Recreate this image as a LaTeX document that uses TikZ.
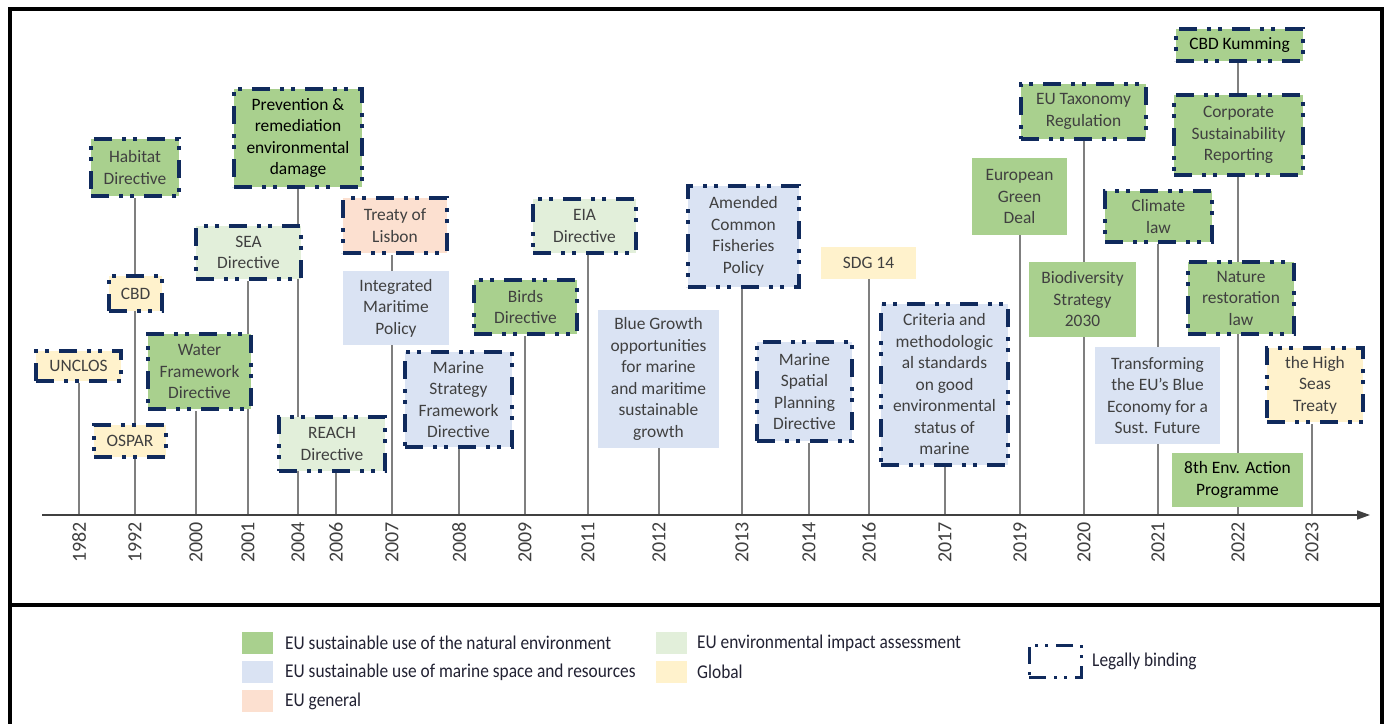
\documentclass[tikz,border=0pt]{standalone}
\usepackage{fontspec}
\setmainfont{Carlito}
\newfontfamily\legfont[FakeStretch=0.89]{Carlito}
\usetikzlibrary{arrows.meta}
\pgfdeclarelayer{background}
\pgfdeclarelayer{canvas}
\pgfsetlayers{canvas,background,main}
\definecolor{gfill}{HTML}{A9D08E}
\definecolor{lgfill}{HTML}{E2EFDA}
\definecolor{bfill}{HTML}{DAE3F3}
\definecolor{yfill}{HTML}{FFF2CC}
\definecolor{sfill}{HTML}{FCE0D0}
\definecolor{navy}{HTML}{102A5C}
\definecolor{txt}{HTML}{404040}
\definecolor{conncol}{HTML}{7F7F7F}
\definecolor{legtxt}{HTML}{222233}
\begin{document}
\begin{tikzpicture}[x=1pt,y=-1pt,
  box/.style={rectangle, inner sep=0pt, align=center, text=txt, font=\fontsize{17.4}{21.5}\selectfont},
  legal/.style={draw=navy, line width=4pt, line cap=butt, dash pattern=on 18pt off 10pt on 4pt off 7pt on 4pt off 10pt},
  gbox/.style={box, fill=gfill},
  lgbox/.style={box, fill=lgfill},
  bbox/.style={box, fill=bfill},
  ybox/.style={box, fill=yfill},
  sbox/.style={box, fill=sfill},
  dark/.style={text=black},
  conn/.style={draw=conncol, line width=1.3pt},
  year/.style={rotate=90, anchor=east, inner sep=0pt, text=txt, font=\fontsize{20}{20}\selectfont},
  swatch/.style={rectangle, inner sep=0pt, minimum width=31pt, minimum height=22pt},
  legtext/.style={anchor=west, inner sep=0pt, text=legtxt, font=\legfont\fontsize{19.5}{20}\selectfont}
]
\useasboundingbox (0,0) rectangle (1387,723);
\begin{pgfonlayer}{canvas}
\fill[white] (0,0) rectangle (1387,723);
\end{pgfonlayer}

% frame
\draw[line width=3.5pt] (10,9) rectangle (1382,745);
\draw[line width=4.5pt] (10,605) -- (1382,605);

% year coordinates on axis
\foreach \yr/\xx in {1982/79,1992/135,2000/196,2001/248,2004/298,2006/336,2007/392,2008/459,2009/525,2011/588,2012/659,2013/742,2014/809,2016/869,2017/945,2019/1020,2020/1084,2021/1158,2022/1238,2023/1312}{
  \coordinate (y\yr) at (\xx,515);
  \node[year] (t\yr) at (\xx,522) {\yr};
}

% boxes
\node[gbox, legal, minimum width=88pt, minimum height=57pt] (habitat) at (135,167.5) {Habitat\\Directive};
\node[gbox, legal, dark, minimum width=128pt, minimum height=98pt] (prev) at (298,138) {Prevention \&\\remediation\\environmental\\damage};
\node[lgbox, legal, minimum width=105pt, minimum height=53pt] (sea) at (248.5,252.5) {SEA\\Directive};
\node[ybox, legal, minimum width=53pt, minimum height=35pt] (cbd) at (135.5,293.5) {CBD};
\node[ybox, legal, minimum width=85pt, minimum height=30pt] (unclos) at (78.5,366) {UNCLOS};
\node[gbox, legal, minimum width=103pt, minimum height=75pt] (wfd) at (199.5,371.5) {Water\\Framework\\Directive};
\node[ybox, legal, minimum width=72pt, minimum height=32pt] (ospar) at (130,441) {OSPAR};
\node[lgbox, legal, minimum width=106pt, minimum height=54pt] (reach) at (332,444) {REACH\\Directive};
\node[sbox, legal, minimum width=104pt, minimum height=55pt] (lisbon) at (395,225.5) {Treaty of\\Lisbon};
\node[bbox, minimum width=106pt, minimum height=74pt] (imp) at (396,308) {Integrated\\Maritime\\Policy};
\node[gbox, legal, minimum width=103pt, minimum height=54pt] (birds) at (525.5,307) {Birds\\Directive};
\node[lgbox, legal, minimum width=103pt, minimum height=54pt] (eia) at (584.5,226) {EIA\\Directive};
\node[bbox, legal, minimum width=107pt, minimum height=95pt] (msfd) at (458.5,399.5) {Marine\\Strategy\\Framework\\Directive};
\node[bbox, minimum width=121pt, minimum height=138pt] (blue) at (658.5,379) {Blue Growth\\opportunities\\for marine\\and maritime\\sustainable\\growth};
\node[bbox, legal, minimum width=111pt, minimum height=101pt] (cfp) at (743.5,236.5) {Amended\\Common\\Fisheries\\Policy};
\node[ybox, minimum width=95pt, minimum height=32pt] (sdg) at (868.5,263) {SDG 14};
\node[bbox, legal, minimum width=95pt, minimum height=99pt] (msp) at (804.5,391.5) {Marine\\Spatial\\Planning\\Directive};
\node[bbox, legal, minimum width=127pt, minimum height=161pt] (crit) at (944.5,384.5) {Criteria and\\methodologic\\al standards\\on good\\environmental\\status of\\marine};
\node[gbox, minimum width=95pt, minimum height=77pt] (egd) at (1019.5,196.5) {European\\Green\\Deal};
\node[gbox, legal, minimum width=125pt, minimum height=55pt] (tax) at (1083.5,111.5) {EU Taxonomy\\Regulation};
\node[gbox, minimum width=107pt, minimum height=75pt] (bio) at (1082.5,299.5) {Biodiversity\\Strategy\\2030};
\node[gbox, legal, dark, minimum width=127pt, minimum height=32pt] (kum) at (1239.5,45) {CBD Kumming};
\node[gbox, legal, minimum width=129pt, minimum height=80pt] (csr) at (1238.5,135) {Corporate\\Sustainability\\Reporting};
\node[gbox, legal, minimum width=107pt, minimum height=51pt] (climate) at (1158.5,216.5) {Climate\\law};
\node[gbox, legal, minimum width=106pt, minimum height=72pt] (nature) at (1241,298) {Nature\\restoration\\law};
\node[bbox, minimum width=125pt, minimum height=97pt] (transf) at (1157.5,395.5) {Transforming\\the EU's Blue\\Economy for a\\Sust. Future};
\node[gbox, dark, minimum width=131pt, minimum height=54pt] (eighth) at (1237.5,480) {8th Env. Action\\Programme};
\node[ybox, legal, minimum width=96pt, minimum height=74pt] (seas) at (1315,385) {the High\\Seas\\Treaty};

% connectors behind boxes
\begin{pgfonlayer}{background}
\foreach \n/\c in {unclos/y1982, habitat/y1992, wfd/y2000, sea/y2001, prev/y2004, reach/y2006, lisbon/y2007, msfd/y2008, birds/y2009, eia/y2011, blue/y2012, cfp/y2013, msp/y2014, sdg/y2016, crit/y2017, egd/y2019, tax/y2020, climate/y2021, kum/y2022, seas/y2023}{
  \draw[conn] (\n.south -| \c) -- (\c);
}
\end{pgfonlayer}

% axis
\coordinate (ax0) at (42,515);
\coordinate (ax1) at (1370,515);
\draw[draw=txt, line width=1.5pt, -{Triangle[length=13pt,width=9pt]}] (ax0) -- (ax1);

% legend
\node[swatch, fill=gfill] (sw1) at (257,643) {};
\node[legtext] (l1) at (285,643) {EU sustainable use of the natural environment};
\node[swatch, fill=bfill] (sw2) at (257,672) {};
\node[legtext] (l2) at (285,672) {EU sustainable use of marine space and resources};
\node[swatch, fill=sfill] (sw3) at (257,701) {};
\node[legtext] (l3) at (285,701) {EU general};
\node[swatch, fill=lgfill] (sw4) at (671,643) {};
\node[legtext] (l4) at (697,643) {EU environmental impact assessment};
\node[swatch, fill=yfill] (sw5) at (671,672) {};
\node[legtext] (l5) at (697,672) {Global};
\node[rectangle, draw=navy, line width=3pt, line cap=butt, dash pattern=on 17pt off 8pt on 3pt off 7pt on 3pt off 8pt, minimum width=52pt, minimum height=32pt, inner sep=0pt] (lb) at (1055,661) {};
\node[legtext] (l6) at (1092,661) {Legally binding};
\end{tikzpicture}
\end{document}
